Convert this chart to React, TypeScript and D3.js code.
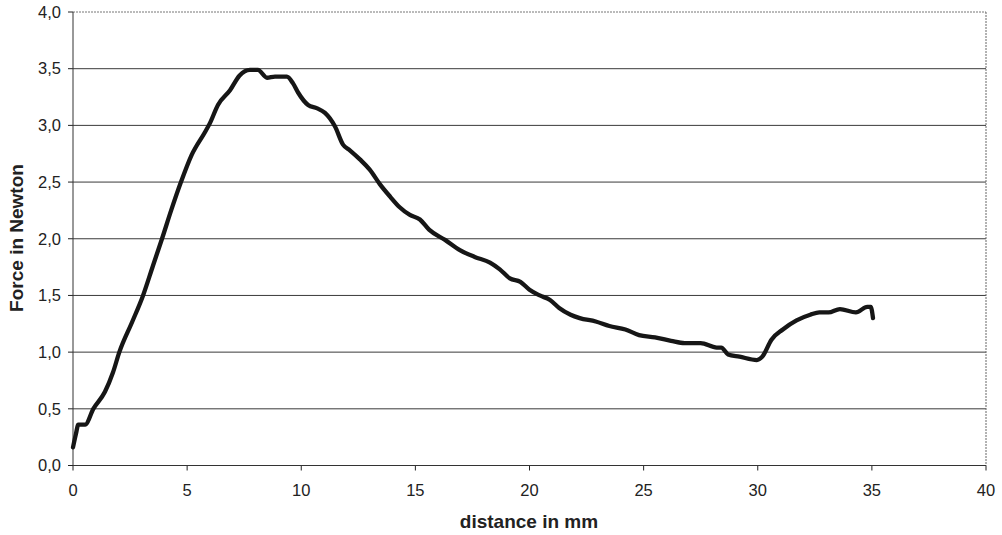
import React from "react";
import * as d3 from "d3";

const distance = [0, 0.13, 0.23, 0.53, 0.89, 1.4, 1.75, 2.03, 2.6, 3.07, 3.5, 3.9, 4.3, 4.73, 5.2, 5.78, 6.0, 6.35, 6.88, 7.3, 7.75, 8.1, 8.5, 8.85, 9.37, 9.64, 9.86, 10.3, 10.7, 11.04, 11.48, 11.83, 12.13, 12.57, 13.0, 13.45, 13.9, 14.3, 14.76, 15.2, 15.6, 16.3, 16.95, 17.6, 18.27, 18.7, 19.14, 19.6, 20.0, 20.45, 20.9, 21.3, 21.8, 22.2, 22.9, 23.5, 24.2, 24.8, 25.5, 26.2, 26.8, 27.5, 28.2, 28.4, 28.7, 29.2, 29.96, 30.2, 30.6, 31.1, 31.7, 32.3, 32.7, 33.1, 33.6, 34.3, 34.8, 34.95, 35.05];
const force = [0.16, 0.28, 0.36, 0.36, 0.5, 0.65, 0.82, 1.0, 1.27, 1.5, 1.76, 2.0, 2.25, 2.5, 2.74, 2.94, 3.02, 3.18, 3.31, 3.44, 3.49, 3.49, 3.42, 3.43, 3.43, 3.37, 3.29, 3.18, 3.15, 3.11, 2.99, 2.83, 2.78, 2.7, 2.61, 2.48, 2.37, 2.28, 2.21, 2.17, 2.08, 1.99, 1.9, 1.84, 1.79, 1.73, 1.65, 1.62, 1.55, 1.5, 1.46, 1.39, 1.33, 1.3, 1.27, 1.23, 1.2, 1.15, 1.13, 1.1, 1.08, 1.08, 1.04, 1.04, 0.98, 0.96, 0.93, 0.96, 1.11, 1.2, 1.28, 1.33, 1.35, 1.35, 1.38, 1.35, 1.4, 1.4, 1.3];

const xTicks = [0, 5, 10, 15, 20, 25, 30, 35, 40];
const yTicks = [0, 0.5, 1.0, 1.5, 2.0, 2.5, 3.0, 3.5, 4.0];
const xTitle = "distance in mm";
const yTitle = "Force in Newton";

const W = 1002;
const H = 535;
const left = 73;
const right = 986;
const top = 12;
const bottom = 465.5;

export default function App() {
  const x = d3.scaleLinear().domain([0, 40]).range([left, right]);
  const y = d3.scaleLinear().domain([0, 4]).range([bottom, top]);
  const pts: [number, number][] = distance.map((d, i) => [d, force[i]]);
  const line = d3
    .line<[number, number]>()
    .x((d) => x(d[0]))
    .y((d) => y(d[1]))
    .curve(d3.curveMonotoneX);
  const fmt = (v: number) => v.toFixed(1).replace(".", ",");
  const font = "'Liberation Sans', Arial, sans-serif";

  return (
    <svg
      width={W}
      height={H}
      style={{ position: "absolute", left: 0, top: 0, background: "#fff" }}
      fontFamily={font}
    >
      {yTicks.map((t) => (
        <g key={"y" + t}>
          {t > 0 && (
            <line
              x1={x(0)}
              x2={x(40)}
              y1={y(t)}
              y2={y(t)}
              stroke={t === 4 ? "#777" : "#3a3a3a"}
              strokeWidth={1}
              strokeDasharray={t === 4 ? "2,1" : undefined}
            />
          )}
          <line x1={x(0) - 5} x2={x(0)} y1={y(t)} y2={y(t)} stroke="#222" />
          <text
            x={61}
            y={y(t)}
            dy="0.35em"
            textAnchor="end"
            fontSize={16.5}
            fill="#222"
          >
            {fmt(t)}
          </text>
        </g>
      ))}
      <line x1={x(40)} x2={x(40)} y1={y(4)} y2={y(0)} stroke="#666" strokeDasharray="2,1" />
      {xTicks.map((t) => (
        <g key={"x" + t}>
          <line x1={x(t)} x2={x(t)} y1={y(0)} y2={y(0) + 5} stroke="#222" />
          <text x={x(t)} y={496} textAnchor="middle" fontSize={16.5} fill="#222">
            {t}
          </text>
        </g>
      ))}
      <line x1={x(0)} x2={x(40)} y1={y(0)} y2={y(0)} stroke="#333" />
      <line x1={x(0)} x2={x(0)} y1={y(4)} y2={y(0)} stroke="#333" />
      <path d={line(pts) || ""} fill="none" stroke="#161616" strokeWidth={4.3} strokeLinejoin="round" strokeLinecap="round" />
      <text x={529} y={528} textAnchor="middle" fontSize={19} fontWeight="bold" fill="#222">
        {xTitle}
      </text>
      <text
        transform={`translate(23,238) rotate(-90)`}
        textAnchor="middle"
        fontSize={19}
        fontWeight="bold"
        fill="#222"
      >
        {yTitle}
      </text>
    </svg>
  );
}
